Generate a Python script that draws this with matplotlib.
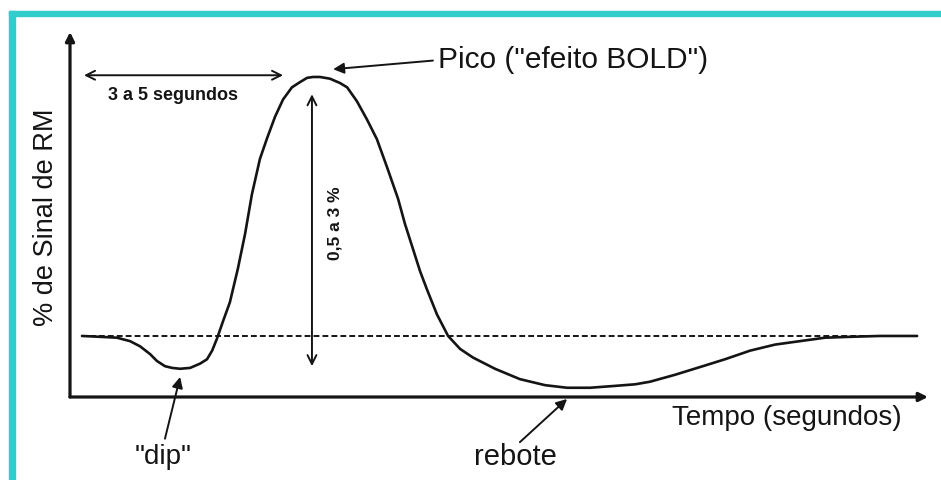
import numpy as np
import matplotlib.pyplot as plt
from matplotlib.patches import Rectangle

plt.rcParams['font.family'] = ['Liberation Sans', 'DejaVu Sans']

ink = '#141414'
cyan = '#33cccc'

# curva BOLD: tempo (s) x sinal (%)
tempo = [0.42, 1.05, 1.64, 2.10, 2.45, 2.80, 3.04, 3.32, 3.57, 3.85, 4.20,
         4.55, 4.79, 4.97, 5.14, 5.35, 5.59, 5.87, 6.12, 6.36, 6.64, 6.89,
         7.17, 7.45, 7.76, 8.04, 8.29, 8.50, 8.74, 9.09, 9.44, 9.69, 10.03,
         10.38, 10.73, 11.08, 11.47, 11.71, 11.99, 12.24, 12.48, 12.83,
         13.22, 13.64, 14.09, 14.86, 15.73, 16.61, 17.38, 18.18, 18.99,
         19.76, 20.28, 21.15, 22.03, 22.90, 23.78, 24.65, 25.52, 26.40,
         27.27, 28.32, 29.62]
sinal = [0.0, -0.01, -0.02, -0.06, -0.12, -0.21, -0.29, -0.35, -0.37, -0.38,
         -0.37, -0.32, -0.27, -0.17, -0.03, 0.17, 0.39, 0.78, 1.18, 1.64,
         2.05, 2.29, 2.54, 2.74, 2.88, 2.94, 2.99, 3.0, 3.0, 2.98, 2.93,
         2.88, 2.72, 2.51, 2.28, 1.96, 1.59, 1.30, 1.01, 0.75, 0.54, 0.25,
         0.0, -0.15, -0.25, -0.38, -0.50, -0.57, -0.60, -0.60, -0.58, -0.56,
         -0.53, -0.45, -0.36, -0.27, -0.17, -0.10, -0.06, -0.02, -0.01, 0.0,
         0.0]

# linha de base (tracejada)
base_t = [0.4, 29.6]
base_s = [0.0, 0.0]

fig = plt.figure(figsize=(9.41, 4.81), dpi=100)
fig.patch.set_facecolor('white')
ax = fig.add_axes([70 / 941, 83 / 481, 858 / 941, 365 / 481])
ax.set_xlim(0, 30)
ax.set_ylim(-0.707, 3.521)
ax.axis('off')

ax.plot(base_t, base_s, color=ink, lw=1.4, dashes=(3, 1.6), clip_on=False)
ax.plot(tempo, sinal, color=ink, lw=1.9, solid_joinstyle='round',
        solid_capstyle='round', clip_on=False)

# eixos com setas
axis_arrow = dict(arrowstyle='-|>', lw=2.3, color=ink, mutation_scale=13,
                  shrinkA=0, shrinkB=0)
ax.annotate('', xy=(1, 0), xytext=(0, 0), xycoords='axes fraction',
            arrowprops=axis_arrow)
ax.annotate('', xy=(0, 1), xytext=(0, 0), xycoords='axes fraction',
            arrowprops=axis_arrow)

# setas duplas
double = dict(arrowstyle='<->', lw=1.4, color=ink, mutation_scale=16,
              shrinkA=0, shrinkB=0)
ax.annotate('', xy=(0.49, 3.02), xytext=(7.45, 3.02), arrowprops=double)
ax.text(3.6, 2.80, '3 a 5 segundos', ha='center', va='center', fontsize=13,
        fontweight='bold', color=ink)
ax.annotate('', xy=(8.46, 2.80), xytext=(8.46, -0.35), arrowprops=double)
ax.text(9.27, 1.32, '0,5 a 3 %', rotation=90, ha='center', va='center',
        fontsize=12.5, fontweight='bold', color=ink)

# setas de indicação
point = dict(arrowstyle='-|>', lw=1.4, color=ink, mutation_scale=16,
             shrinkA=0, shrinkB=0)
ax.annotate('', xy=(9.20, 3.09), xytext=(12.69, 3.19), arrowprops=point,
            annotation_clip=False)
ax.text(12.87, 3.21, 'Pico ("efeito BOLD")', ha='left', va='center',
        fontsize=21.5, color=ink, clip_on=False)

ax.annotate('', xy=(3.85, -0.475), xytext=(3.32, -1.19), arrowprops=point,
            annotation_clip=False)
ax.text(3.25, -1.39, '"dip"', ha='center', va='center', fontsize=20,
        color=ink, clip_on=False)

ax.annotate('', xy=(17.38, -0.73), xytext=(15.73, -1.23), arrowprops=point,
            annotation_clip=False)
ax.text(15.56, -1.39, 'rebote', ha='center', va='center', fontsize=21,
        color=ink, clip_on=False)

ax.text(21.05, -0.94, 'Tempo (segundos)', ha='left', va='center',
        fontsize=20, color=ink, clip_on=False)
ax.text(-0.84, 1.39, '% de Sinal de RM', rotation=90, ha='center',
        va='center', fontsize=19.5, color=ink, clip_on=False)

# moldura ciano
fig.patches.append(Rectangle((9 / 941, 0), 6 / 941, 469 / 481,
                             transform=fig.transFigure, color=cyan))
fig.patches.append(Rectangle((9 / 941, 464 / 481), 932 / 941, 5 / 481,
                             transform=fig.transFigure, color=cyan))

fig.savefig('out.png', dpi=100)
